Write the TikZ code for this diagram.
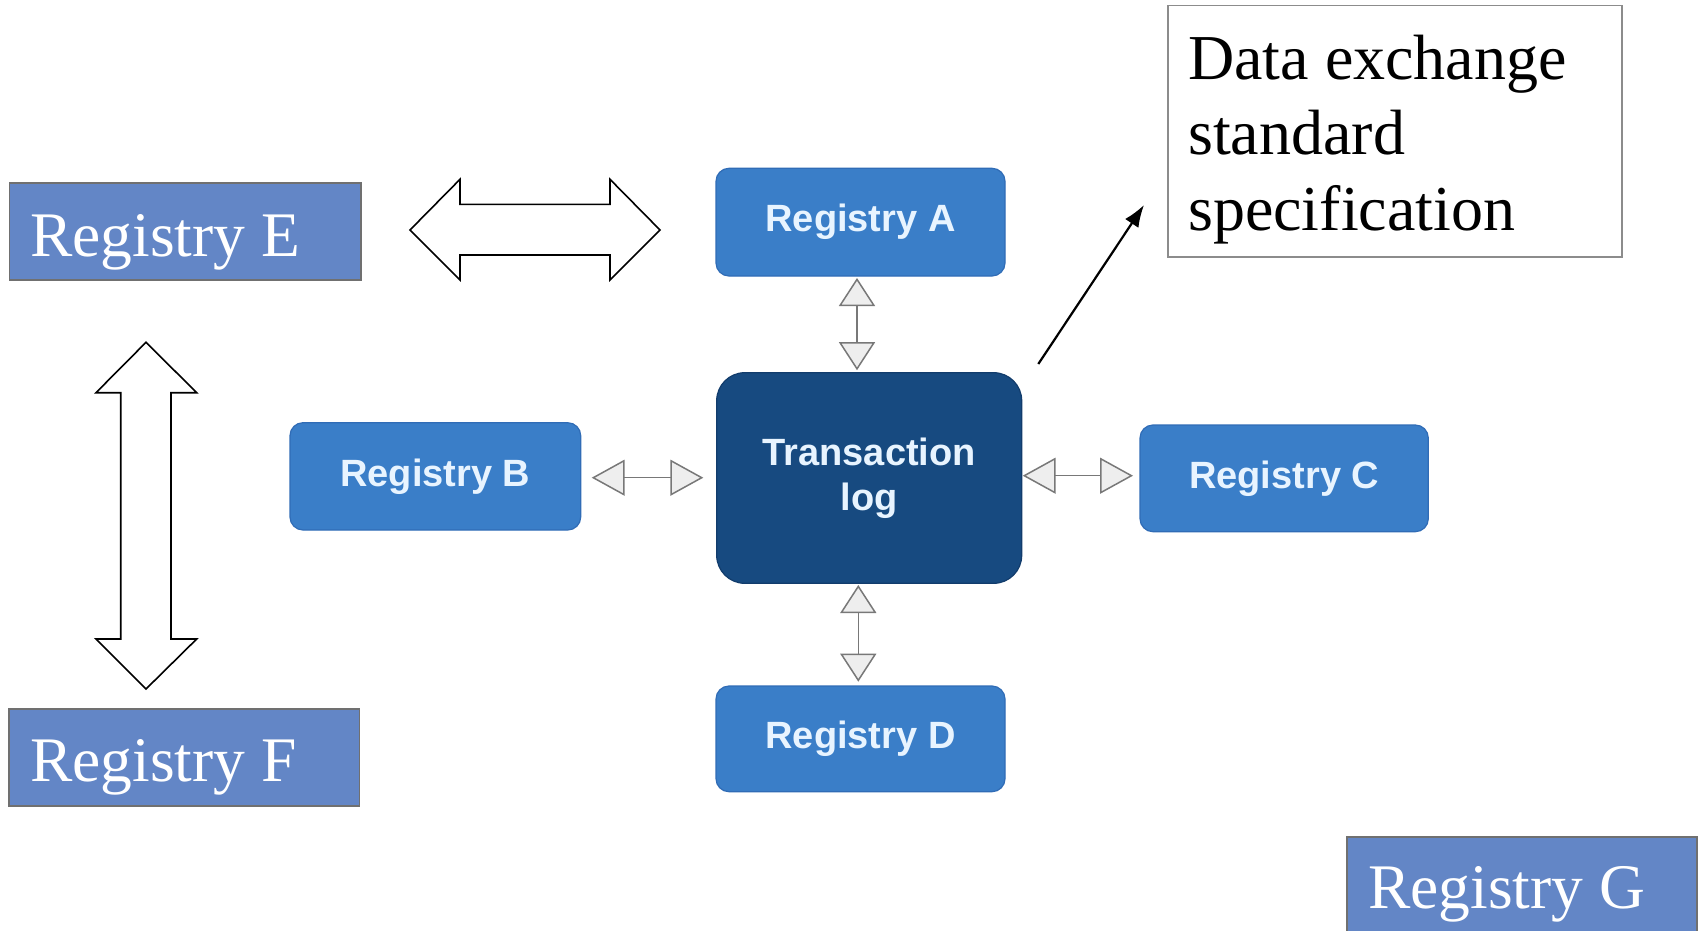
\documentclass[tikz,border=0pt]{standalone}
\usepackage{fontspec}
\setmainfont{Liberation Serif}
\newfontfamily\regsans{Liberation Sans}
\usetikzlibrary{arrows.meta}
\definecolor{outerblue}{RGB}{99,134,198}
\definecolor{outeredge}{RGB}{112,112,112}
\definecolor{innerblue}{RGB}{58,126,200}
\definecolor{inneredge}{RGB}{48,108,182}
\definecolor{logblue}{RGB}{23,74,128}
\definecolor{logedge}{RGB}{18,60,108}
\definecolor{innertext}{RGB}{232,244,255}
\definecolor{conngray}{RGB}{120,120,120}
\definecolor{tipfill}{RGB}{238,238,238}
\definecolor{specedge}{RGB}{140,140,140}
\tikzset{
  outerbox/.style={draw=outeredge, line width=1.6pt, fill=outerblue, inner sep=0pt, outer sep=0pt, anchor=north west},
  outertext/.style={text=white, font=\fontsize{63.5}{76}\selectfont, inner sep=0pt, anchor=base west},
  innerbox/.style={draw=inneredge, line width=1.2pt, fill=innerblue, rounded corners=13pt, inner sep=0pt, outer sep=0pt, anchor=north west, text=innertext, font=\regsans\bfseries\fontsize{38}{45}\selectfont, align=center},
  logbox/.style={innerbox, draw=logedge, fill=logblue, rounded corners=28pt},
  blockarrow/.style={draw=black, line width=1.6pt, fill=white, line join=miter},
  vconn/.style={draw=conngray, line width=1.5pt, {Triangle[length=28pt,width=36pt,fill=tipfill]}-{Triangle[length=28pt,width=36pt,fill=tipfill]}},
  hconn/.style={draw=conngray, line width=1.5pt, {Triangle[length=33pt,width=36pt,fill=tipfill]}-{Triangle[length=33pt,width=36pt,fill=tipfill]}},
  pointer/.style={draw=black, line width=2.2pt, -{Latex[length=22pt,width=16pt]}},
  specbox/.style={draw=specedge, line width=1.6pt, fill=white, inner sep=0pt, outer sep=0pt, anchor=north west},
  spectext/.style={text=black, font=\fontsize{64}{75.5}\selectfont, inner sep=0pt, anchor=base west, align=left}
}
\begin{document}
\begin{tikzpicture}[x=1pt,y=-1pt]
\useasboundingbox (0,0) rectangle (1702,931);
\fill[white] (0,0) rectangle (1702,931);

% outer registries
\node[outerbox, minimum width=351.4pt, minimum height=97.3pt] (E) at (9.3,182.7) {};
\node[outertext] (Etext) at (30,256) {Registry E};
\node[outerbox, minimum width=350.6pt, minimum height=97.3pt] (F) at (8.7,708.7) {};
\node[outertext] (Ftext) at (30,781.7) {Registry F};
\node[outerbox, minimum width=350.3pt, minimum height=104pt] (G) at (1346.7,836.7) {};
\node[outertext] (Gtext) at (1368,908) {Registry G};

% specification box (base anchor of a multi-line node = last line)
\node[specbox, minimum width=454pt, minimum height=251.6pt] (S) at (1168,5.4) {};
\node[spectext] (Stext) at (1188,230) {Data exchange\\standard\\specification};

% inner diagram
\node[innerbox, minimum width=289pt, minimum height=107.7pt] (A) at (716,168.3) {Registry A};
\node[logbox, minimum width=305pt, minimum height=210.6pt] (T) at (716.7,372.7) {Transaction\\log};
\node[innerbox, minimum width=290.7pt, minimum height=107.3pt] (B) at (290,422.7) {Registry B};
\node[innerbox, minimum width=288.3pt, minimum height=106.7pt] (C) at (1140,425) {Registry C};
\node[innerbox, minimum width=289pt, minimum height=105.7pt] (D) at (716,686) {Registry D};

% small connectors
\coordinate (axA) at (857,0);
\coordinate (axD) at (858.3,0);
\coordinate (ayB) at (0,477.7);
\coordinate (ayC) at (0,475.7);
\draw[vconn, shorten <=2pt, shorten >=2.5pt] (A.south -| axA) -- (T.north -| axA);
\draw[vconn, shorten <=1.7pt, shorten >=4.3pt] (T.south -| axD) -- (D.north -| axD);
\draw[hconn, shorten <=11pt, shorten >=13.4pt] (B.east |- ayB) -- (T.west |- ayB);
\draw[hconn, shorten <=1pt, shorten >=7pt] (T.east |- ayC) -- (C.west |- ayC);

% pointer to specification
\coordinate (ps) at (1038.3,364);
\coordinate (pe) at (1144,205);
\draw[pointer] (ps) -- (pe);

% block double arrows
\draw[blockarrow] (410,230) -- (460,179.3) -- (460,204.3) -- (610,204.3) -- (610,179.3) -- (660,230)
  -- (610,280) -- (610,255) -- (460,255) -- (460,280) -- cycle;
\draw[blockarrow] (146,342.3) -- (196.7,392.7) -- (171,392.7) -- (171,639) -- (196.7,639) -- (146,689)
  -- (96,639) -- (120.7,639) -- (120.7,392.7) -- (96,392.7) -- cycle;
\end{tikzpicture}
\end{document}
